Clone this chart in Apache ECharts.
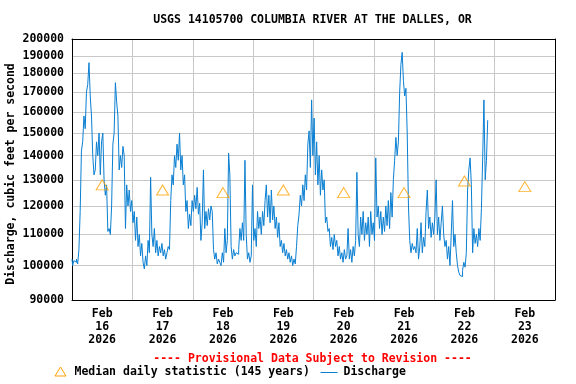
<!DOCTYPE html>
<html><head><meta charset="utf-8">
<script src="https://cdn.jsdelivr.net/npm/echarts@6/dist/echarts.min.js"></script>
<style>html,body{margin:0;padding:0;background:#fff}#c{width:576px;height:384px}</style>
</head><body><div id="c"></div>
<script>
// ---- data ----
const titleText = 'USGS 14105700 COLUMBIA RIVER AT THE DALLES, OR';
const yAxisTitle = 'Discharge, cubic feet per second';
const monthLabel = 'Feb';
const yearLabel = '2026';
const dayLabels = ['16', '17', '18', '19', '20', '21', '22', '23'];
const yTickValues = [90000, 100000, 110000, 120000, 130000, 140000, 150000, 160000, 170000, 180000, 190000, 200000];
// half-hourly discharge (cfs), starting Feb 16 2026 00:00
const dischargeDay1 = [102000,100000,101500,101000,102000,100500,105000,118000,142000,146000,158000,152000,170000,174000,186000,168000,158000,140000,132000,134000,146000,140000,150000,132000,146000,150000,130000,124000,128000,111000,112000,110000,120000,145000,150000,175000,165000,158000,134000,140000,135000,144000,140000,112000,128000,120000,126000,118000];
const dischargeDay2 = [122000,114000,118000,108000,116000,106000,110000,103000,107000,101000,99000,103000,100000,108000,104000,131000,110000,106000,112000,104000,108000,103000,106000,104000,107000,103000,105000,102000,104000,106000,105000,122000,132000,128000,140000,135000,145000,138000,150000,134000,140000,128000,132000,118000,122000,112000,117000,113000];
const dischargeDay3 = [122000,118000,124000,119000,127000,117000,121000,108000,114000,134000,112000,118000,113000,119000,115000,120000,118000,105000,102000,104000,100500,102000,101000,100000,104000,101000,112000,104000,108000,141000,132000,106000,102000,105000,103000,104000,103500,105000,112000,108000,114000,108000,138000,110000,102000,104000,101000,103000];
const dischargeDay4 = [128000,108000,112000,106000,118000,112000,116000,110000,118000,113000,122000,128000,116000,124000,114000,126000,115000,120000,112000,116000,109000,114000,106000,108000,104000,107000,103000,105000,102000,104000,101000,103000,100000,102000,100500,106000,113000,117000,124000,120000,128000,122000,132000,126000,145000,151000,135000,166000];
const dischargeDay5 = [140000,157000,132000,146000,128000,140000,124000,134000,126000,130000,114000,116000,111000,112000,106000,109000,105000,110000,106000,108000,103000,106000,102000,104000,101000,105000,102000,103000,112000,102000,105000,101000,106000,103000,108000,133000,110000,106000,116000,110000,118000,108000,114000,110000,116000,106000,118000,110000];
const dischargeDay6 = [114000,108000,139000,116000,120000,112000,118000,110000,116000,111000,120000,113000,122000,112000,125000,116000,130000,138000,148000,140000,146000,170000,185000,192000,176000,168000,172000,150000,120000,108000,104000,107000,105000,106000,104000,112000,102000,106000,114000,104000,109000,106000,118000,126000,112000,116000,109000,114000];
const dischargeDay7 = [110000,116000,130000,110000,116000,108000,114000,120000,110000,106000,108000,102000,106000,100000,110000,122000,106000,110000,104000,100000,98000,97000,96700,98500,101000,99500,104000,126000,134000,139000,128000,104000,112000,107000,110000,106000,112000,108000,119000,139000,166000,130000,138000,156000];
// median daily statistic (145 years), one per day Feb 16..23
const medianDaily = [128000, 126000, 125000, 126000, 125000, 125000, 129500, 127300];
const provisionalText = '---- Provisional Data Subject to Revision ----';
const legendMedian = 'Median daily statistic (145 years)';
const legendDischarge = 'Discharge';

// ---- build ----
const discharge = [].concat(dischargeDay1, dischargeDay2, dischargeDay3, dischargeDay4, dischargeDay5, dischargeDay6, dischargeDay7);
const dischargeData = discharge.map((v, i) => [i * 0.5, v]);   // x in hours since Feb 16 00:00
const medianData = medianDaily.map((v, i) => [i * 24 + 12, v]);

const FONT = 'DejaVu Sans Mono';
const FS = 11.5;
const BLUE = '#0a7fd2';
const ORANGE = '#ffa000';
const GRIDC = '#c8c8c8';
const fontStr = 'bold 11.5px "DejaVu Sans Mono"';

const chart = echarts.init(document.getElementById('c'), null, {renderer: 'canvas'});
chart.setOption({
  animation: false,
  backgroundColor: '#fff',
  textStyle: {fontFamily: FONT, fontWeight: 'bold', fontSize: FS, color: '#000'},
  grid: {left: 72, top: 39, right: 21, bottom: 84, show: false},
  xAxis: [
    {type: 'value', min: 0, max: 192, interval: 24, position: 'bottom',
     axisLine: {show: true, onZero: false, lineStyle: {color: '#000', width: 1}}, axisTick: {show: false}, axisLabel: {show: false},
     splitLine: {show: true, lineStyle: {color: GRIDC, width: 1}}},
    {type: 'value', min: 0, max: 192, interval: 12, position: 'bottom',
     axisLine: {show: false}, axisTick: {show: false}, splitLine: {show: false},
     axisLabel: {show: true, margin: 7.5, fontFamily: FONT, fontWeight: 'bold', fontSize: FS, lineHeight: 13, color: '#000',
       showMinLabel: true, showMaxLabel: true,
       formatter: function (v) {
         if (v % 24 !== 12) return '';
         const d = Math.floor(v / 24);
         return monthLabel + '\n' + dayLabels[d] + '\n' + yearLabel;
       }}},
    {type: 'value', min: 0, max: 192, interval: 24, position: 'top',
     axisLine: {show: true, onZero: false, lineStyle: {color: '#000', width: 1}}, axisTick: {show: false}, axisLabel: {show: false},
     splitLine: {show: false}}
  ],
  yAxis: [
    {type: 'log', logBase: 10, min: 90000, max: 200000, position: 'left',
     axisLine: {show: true, onZero: false, lineStyle: {color: '#000', width: 1}},
     axisTick: {show: false, customValues: yTickValues},
     axisLabel: {show: true, customValues: yTickValues, margin: 8, fontFamily: FONT, fontWeight: 'bold', fontSize: FS, color: '#000',
       formatter: function (v) { return String(Math.round(v)); }},
     splitLine: {show: true, lineStyle: {color: GRIDC, width: 1}}},
    {type: 'log', logBase: 10, min: 90000, max: 200000, position: 'right',
     axisLine: {show: true, onZero: false, lineStyle: {color: '#000', width: 1}},
     axisTick: {show: false}, axisLabel: {show: false}, splitLine: {show: false}}
  ],
  series: [
    {name: legendDischarge, type: 'line', xAxisIndex: 0, yAxisIndex: 0, data: dischargeData, symbol: 'none', step: 'middle',
     lineStyle: {color: BLUE, width: 1}, itemStyle: {color: BLUE}, z: 3},
    {name: legendMedian, type: 'scatter', xAxisIndex: 0, yAxisIndex: 0, data: medianData, symbol: 'triangle', symbolSize: [12, 10],
     itemStyle: {color: 'rgba(255,255,255,0)', borderColor: ORANGE, borderWidth: 1}, z: 4}
  ],
  graphic: [
    {type: 'text', x: 312.5, y: 20, style: {text: titleText, font: fontStr, fill: '#000', textAlign: 'center', textVerticalAlign: 'middle'}},
    {type: 'text', x: 11.5, y: 174, rotation: Math.PI / 2, style: {text: yAxisTitle, font: fontStr, fill: '#000', textAlign: 'center', textVerticalAlign: 'middle'}},
    {type: 'text', x: 312.5, y: 359, style: {text: provisionalText, font: fontStr, fill: '#ff0000', textAlign: 'center', textVerticalAlign: 'middle'}},
    {type: 'polygon', shape: {points: [[60.5, 367], [66, 376], [55, 376]]}, style: {fill: 'none', stroke: ORANGE, lineWidth: 1}},
    {type: 'text', x: 74.5, y: 372.5, style: {text: legendMedian, font: fontStr, fill: '#000', textAlign: 'left', textVerticalAlign: 'middle'}},
    {type: 'line', shape: {x1: 320.5, y1: 372.5, x2: 337.5, y2: 372.5}, style: {stroke: BLUE, lineWidth: 1}},
    {type: 'text', x: 343.5, y: 372.5, style: {text: legendDischarge, font: fontStr, fill: '#000', textAlign: 'left', textVerticalAlign: 'middle'}}
  ]
});
</script>
</body></html>
